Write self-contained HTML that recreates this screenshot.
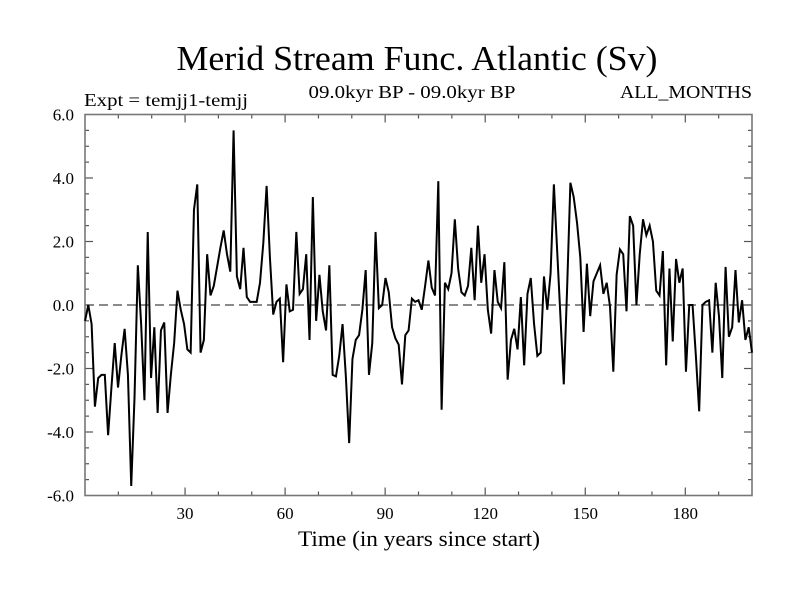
<!DOCTYPE html>
<html><head><meta charset="utf-8"><title>Merid Stream Func</title>
<style>html,body{margin:0;padding:0;background:#fff}svg{display:block}text{font-family:"Liberation Serif",serif;fill:#000}</style>
</head><body>
<svg id="chart" width="800" height="600" viewBox="0 0 800 600" xmlns="http://www.w3.org/2000/svg">
<rect width="800" height="600" fill="#fff"/>
<text x="417" y="70" font-size="35" text-anchor="middle" textLength="481" lengthAdjust="spacingAndGlyphs">Merid Stream Func. Atlantic (Sv)</text>
<text x="84" y="106" font-size="18" textLength="164" lengthAdjust="spacingAndGlyphs">Expt = temjj1-temjj</text>
<text x="412" y="98" font-size="18" text-anchor="middle" textLength="207" lengthAdjust="spacingAndGlyphs">09.0kyr BP - 09.0kyr BP</text>
<text x="752" y="98" font-size="18" text-anchor="end" textLength="132" lengthAdjust="spacingAndGlyphs">ALL_MONTHS</text>
<text x="419" y="546" font-size="22" text-anchor="middle" textLength="242" lengthAdjust="spacingAndGlyphs">Time (in years since start)</text>
<g id="axes"></g>
<g id="series"></g>
</svg>
<script>
const values = [-0.5,0.0,-0.6,-3.2,-2.3,-2.2,-2.2,-4.1,-2.6,-1.2,-2.6,-1.6,-0.75,-2.2,-5.7,-2.9,1.25,-0.6,-3.0,2.3,-2.3,-0.7,-3.4,-0.8,-0.55,-3.4,-2.2,-1.2,0.45,-0.15,-0.6,-1.4,-1.5,3.0,3.8,-1.5,-1.1,1.6,0.3,0.6,1.2,1.8,2.35,1.6,1.05,5.5,0.9,0.5,1.8,0.25,0.1,0.1,0.1,0.7,1.95,3.75,1.5,-0.3,0.1,0.2,-1.8,0.65,-0.2,-0.15,2.3,0.35,0.5,1.6,-1.1,3.4,-0.5,0.95,-0.2,-0.8,1.25,-2.2,-2.25,-1.6,-0.6,-2.25,-4.35,-1.7,-1.1,-0.95,-0.15,1.1,-2.2,-1.2,2.3,-0.1,0.0,0.85,0.4,-0.7,-1.05,-1.25,-2.5,-0.95,-0.8,0.2,0.1,0.15,-0.15,0.6,1.4,0.55,0.3,3.9,-3.3,0.7,0.5,1.0,2.7,1.15,0.4,0.3,0.6,1.8,0.15,2.5,0.7,1.6,-0.15,-0.9,1.1,0.1,-0.1,1.35,-2.35,-1.1,-0.75,-1.4,0.25,-1.9,0.35,0.85,-0.6,-1.6,-1.5,0.9,-0.15,1.0,3.8,1.7,-0.4,-2.5,0.5,3.85,3.4,2.6,1.5,-0.85,1.3,-0.35,0.75,1.0,1.25,0.35,0.7,-0.05,-2.1,0.95,1.75,1.6,-0.2,2.8,2.5,0.0,1.6,2.7,2.2,2.5,2.0,0.45,0.3,1.7,-1.9,1.15,-1.15,1.45,0.7,1.15,-2.1,0.0,0.0,-1.6,-3.35,0.0,0.1,0.15,-1.5,0.7,-0.35,-2.3,1.2,-1.0,-0.7,1.1,-0.55,0.15,-1.1,-0.7,-1.5];
const xTicks = [30,60,90,120,150,180];
const yTicks = [6,4,2,0,-2,-4,-6];
const yTickLabels = ["6.0","4.0","2.0","0.0","-2.0","-4.0","-6.0"];
const xMin = 0, xMax = 200, yMin = -6, yMax = 6;
const L = 85, R = 752, T = 114.5, B = 495.5;
const NS = 'http://www.w3.org/2000/svg';
function xs(v){return L + (v - xMin) / (xMax - xMin) * (R - L);}
function ys(v){return B - (v - yMin) / (yMax - yMin) * (B - T);}
function mk(tag, attrs, parent){const e = document.createElementNS(NS, tag); for (const k in attrs) e.setAttribute(k, attrs[k]); parent.appendChild(e); return e;}
const axes = document.getElementById('axes');
const series = document.getElementById('series');
// zero line
const zl = mk('line', {x1:L, x2:R, y1:ys(0), y2:ys(0), stroke:'#444', 'stroke-width':1.3, 'stroke-dasharray':'9,5'}, axes);


// x ticks
for (let v = 10; v < xMax; v += 10) {
  const len = (v % 30 === 0) ? 8 : 4;
  const x = xs(v);
  const t1 = mk('line', {x1:x, x2:x, y1:B, y2:B - len, stroke:'#555', 'stroke-width':1.2}, axes);
  
  
  const t2 = mk('line', {x1:x, x2:x, y1:T, y2:T + len, stroke:'#555', 'stroke-width':1.2}, axes);
  
  
}
xTicks.forEach(v => {
  const t = mk('text', {x:xs(v), y:519, 'font-size':17, 'text-anchor':'middle'}, axes);
  t.textContent = String(v);
  
  
});
// y ticks
for (let v = yMin + 0.5; v < yMax; v += 0.5) {
  const len = (Math.abs(v % 2) < 1e-9) ? 8 : 4;
  const y = ys(v);
  const t1 = mk('line', {x1:L, x2:L + len, y1:y, y2:y, stroke:'#555', 'stroke-width':1.2}, axes);
  
  
  const t2 = mk('line', {x1:R, x2:R - len, y1:y, y2:y, stroke:'#555', 'stroke-width':1.2}, axes);
  
  
}
yTicks.forEach((v, i) => {
  const t = mk('text', {x:74, y:ys(v) + 6, 'font-size':17, 'text-anchor':'end'}, axes);
  t.textContent = yTickLabels[i];
  
  
});
const frame = mk('rect', {x:L, y:T, width:R - L, height:B - T, fill:'none', stroke:'#777', 'stroke-width':1.6}, axes);


// series
const n = values.length;
const pts = values.map((v, i) => xs(xMin + i * (xMax - xMin) / (n - 1)).toFixed(2) + ',' + ys(v).toFixed(2)).join(' ');
const line = mk('polyline', {points:pts, fill:'none', stroke:'#000', 'stroke-width':2, 'stroke-linejoin':'miter', 'stroke-miterlimit':4}, series);


</script>
</body></html>
